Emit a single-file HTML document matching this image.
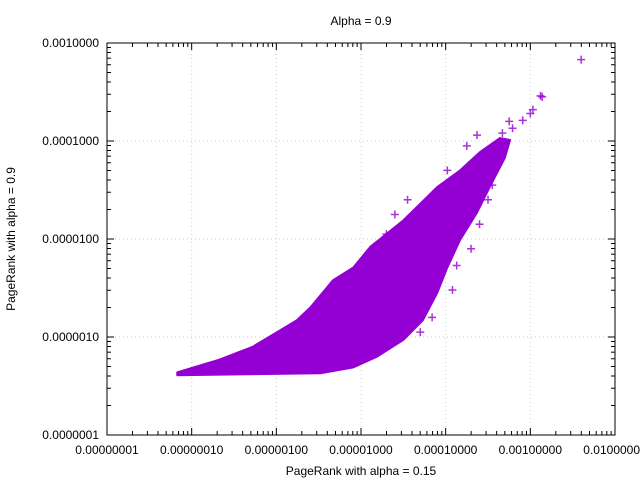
<!DOCTYPE html>
<html><head><meta charset="utf-8"><style>
body{margin:0;background:#fff}
svg{display:block;font-family:"Liberation Sans",sans-serif}
</style></head><body>
<svg id="chart" width="640" height="480">
<rect width="640" height="480" fill="#fff"/>
<text x="361" y="25" font-size="12" text-anchor="middle">Alpha = 0.9</text>
<g id="grid"></g><g id="cloud"></g><g id="pts"></g><g id="axes"></g>
<text x="361" y="475" font-size="12" text-anchor="middle">PageRank with alpha = 0.15</text>
<text x="15" y="239" font-size="12" text-anchor="middle" transform="rotate(-90 15 239)">PageRank with alpha = 0.9</text>
</svg>
<script>
const xTickVals=[1e-8,1e-7,1e-6,1e-5,1e-4,1e-3,1e-2];
const xTickLabels=["0.00000001","0.00000010","0.00000100","0.00001000","0.00010000","0.00100000","0.01000000"];
const yTickVals=[1e-7,1e-6,1e-5,1e-4,1e-3];
const yTickLabels=["0.0000001","0.0000010","0.0000100","0.0001000","0.0010000"];
// dense core outline (log10 values)
const cloudX=[-7.17,-6.67,-6.28,-5.99,-5.76,-5.60,-5.33,-5.09,-4.89,-4.50,-4.10,-3.83,-3.59,-3.36,-3.24,-3.30,-3.48,-3.63,-3.83,-3.98,-4.10,-4.27,-4.50,-4.81,-5.09,-5.48,-7.17];
const cloudY=[-6.36,-6.23,-6.10,-5.95,-5.83,-5.70,-5.42,-5.29,-5.08,-4.81,-4.47,-4.30,-4.11,-3.97,-3.99,-4.17,-4.47,-4.73,-5.01,-5.29,-5.55,-5.83,-6.03,-6.20,-6.31,-6.37,-6.39];
// scattered points (log10 values)
const ptX=[-2.40,-2.86,-2.88,-2.97,-3.09,-3.21,-3.33,-3.39,-3.51,-3.69,-3.63,-3.45,-3.81,-4.04,-4.22,-4.40,-4.52,-4.64,-4.76,-4.88,-4.99,-5.11,-5.17,-5.35,-3.87,-3.92,-3.75,-3.98,-4.10,-4.16,-4.30,-3.25,-3.0,-3.55,-4.60,-4.45,-4.70,-3.60,-3.50,-3.70];
const ptY=[-3.17,-3.55,-3.54,-3.68,-3.79,-3.87,-3.92,-4.09,-4.19,-4.30,-3.94,-4.45,-4.45,-4.65,-4.81,-4.96,-5.03,-5.09,-5.23,-5.23,-5.37,-5.47,-5.62,-5.67,-5.27,-5.52,-4.05,-4.30,-4.55,-5.80,-5.95,-3.80,-3.72,-4.35,-4.75,-4.60,-4.95,-4.85,-4.60,-5.10];
const X0=107,X1=615,Y0=435,Y1=43;
const sx=v=>X0+(Math.log10(v)+8)/6*(X1-X0);
const sy=v=>Y0-(Math.log10(v)+7)/4*(Y0-Y1);
const lx=l=>sx(Math.pow(10,l)), ly=l=>sy(Math.pow(10,l));
const NS="http://www.w3.org/2000/svg";
function mk(t,a,p){const e=document.createElementNS(NS,t);for(const k in a)e.setAttribute(k,a[k]);p.appendChild(e);return e;}
const grid=document.getElementById('grid'),axes=document.getElementById('axes');
xTickVals.forEach((v,i)=>{const x=sx(v);
 if(i>0&&i<6){const g=mk('line',{x1:x,x2:x,y1:Y0,y2:Y1,stroke:'#ccc','stroke-dasharray':'1,3'},grid);
 }
 mk('line',{x1:x,x2:x,y1:Y0,y2:Y0-7,stroke:'#000'},axes);mk('line',{x1:x,x2:x,y1:Y1,y2:Y1+7,stroke:'#000'},axes);
 for(let k=2;k<10&&i<6;k++){const xm=sx(v*k);mk('line',{x1:xm,x2:xm,y1:Y0,y2:Y0-4,stroke:'#000'},axes);mk('line',{x1:xm,x2:xm,y1:Y1,y2:Y1+4,stroke:'#000'},axes);}
 const t=mk('text',{x:x,y:Y0+19,'font-size':12,'text-anchor':'middle'},axes);t.textContent=xTickLabels[i];
 });
yTickVals.forEach((v,i)=>{const y=sy(v);
 if(i>0&&i<4){const g=mk('line',{x1:X0,x2:X1,y1:y,y2:y,stroke:'#ccc','stroke-dasharray':'1,3'},grid);
 }
 mk('line',{x1:X0,x2:X0+7,y1:y,y2:y,stroke:'#000'},axes);mk('line',{x1:X1,x2:X1-7,y1:y,y2:y,stroke:'#000'},axes);
 for(let k=2;k<10&&i<4;k++){const ym=sy(v*k);mk('line',{x1:X0,x2:X0+4,y1:ym,y2:ym,stroke:'#000'},axes);mk('line',{x1:X1,x2:X1-4,y1:ym,y2:ym,stroke:'#000'},axes);}
 const t=mk('text',{x:X0-8,y:y+4,'font-size':12,'text-anchor':'end'},axes);t.textContent=yTickLabels[i];
 });
const fr=mk('rect',{x:X0,y:Y1,width:X1-X0,height:Y0-Y1,fill:'none',stroke:'#000'},axes);

const poly=mk('polygon',{points:cloudX.map((x,i)=>lx(x)+','+ly(cloudY[i])).join(' '),fill:'#9400d3',stroke:'#9400d3','stroke-width':2,'stroke-linejoin':'round'},document.getElementById('cloud'));

const pts=document.getElementById('pts');
ptX.forEach((x,i)=>{const cx=lx(x),cy=ly(ptY[i]);
 const p=mk('path',{d:`M${cx-4},${cy}H${cx+4}M${cx},${cy-4}V${cy+4}`,stroke:'#9400d3','stroke-width':1.5,opacity:0.8},pts);
 });
</script>
</body></html>
